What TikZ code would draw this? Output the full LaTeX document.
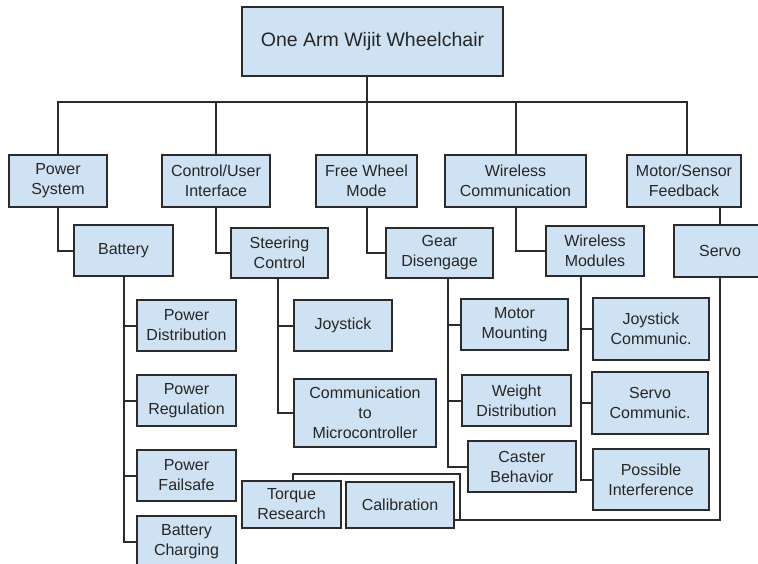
\documentclass[tikz,border=0pt]{standalone}
\usepackage{fontspec}
\setmainfont{Liberation Sans}
\usepackage{tikz}
\usetikzlibrary{positioning}
\usepackage{xcolor}
\definecolor{boxblue}{HTML}{CFE2F3}
\definecolor{boxline}{HTML}{2B2B2B}

\begin{document}
\begin{tikzpicture}[x=1pt, y=-1pt,
    block/.style={rectangle, draw=boxline, line width=2pt, fill=boxblue, align=center,
                  inner sep=0pt, text=black!85, font=\fontsize{16}{20}\selectfont},
    link/.style={draw=boxline, line width=2pt}]

          % Page
          \useasboundingbox (0,0) rectangle (758,563);

          % Top
          \node[block, minimum width=261pt, minimum height=69pt, font=\fontsize{19.5}{23}\selectfont] (top) at (372.5,41.5) {\raisebox{3pt}{One Arm Wijit Wheelchair}};

          % First level
          \node[block, minimum width=98pt,  minimum height=52pt] (pow) at (58,181)    {Power\\System};
          \node[block, minimum width=108pt, minimum height=52pt] (ctl) at (216,181)   {Control/User\\Interface};
          \node[block, minimum width=101pt, minimum height=52pt] (fwm) at (366.5,181) {Free Wheel\\Mode};
          \node[block, minimum width=141pt, minimum height=52pt] (wlc) at (515.5,181) {Wireless\\Communication};
          \node[block, minimum width=114pt, minimum height=52pt] (msf) at (684,181)   {Motor/Sensor\\Feedback};

          % Second level
          \node[block, minimum width=99pt,  minimum height=51pt] (bat)   at (123.5,250.5) {Battery};
          \node[block, minimum width=97pt,  minimum height=50pt] (ste)   at (279.5,253)   {Steering\\Control};
          \node[block, minimum width=107pt, minimum height=50pt] (gear)  at (439.5,253)   {Gear\\Disengage};
          \node[block, minimum width=98pt,  minimum height=50pt] (wmod)  at (595,251)     {Wireless\\Modules};
          \node[block, minimum width=92pt,  minimum height=52pt] (servo) at (720,251)     {Servo};

          % Third level
          \node[block, minimum width=99pt,  minimum height=51pt] (pdist)  at (186.5,325.5) {Power\\Distribution};
          \node[block, minimum width=99pt,  minimum height=51pt] (preg)   at (186.5,400.5) {Power\\Regulation};
          \node[block, minimum width=99pt,  minimum height=51pt] (pfs)    at (186.5,475.5) {Power\\Failsafe};
          \node[block, minimum width=99pt,  minimum height=52pt] (bchg)   at (186.5,542)   {Battery\\Charging};
          \node[block, minimum width=98pt,  minimum height=51pt] (joy)    at (343,325.5)   {Joystick};
          \node[block, minimum width=142pt, minimum height=68pt] (comm)   at (365,413)     {Communication\\to\\Microcontroller};
          \node[block, minimum width=107pt, minimum height=51pt] (mmount) at (514.5,324.5) {Motor\\Mounting};
          \node[block, minimum width=109pt, minimum height=51pt] (wdist)  at (516.5,400.5) {Weight\\Distribution};
          \node[block, minimum width=108pt, minimum height=51pt] (caster) at (522,466.5)   {Caster\\Behavior};
          \node[block, minimum width=116pt, minimum height=62pt] (jcom)   at (651,329)     {Joystick\\Communic.};
          \node[block, minimum width=116pt, minimum height=62pt] (scom)   at (650,403)     {Servo\\Communic.};
          \node[block, minimum width=116pt, minimum height=61pt] (pint)   at (651,479.5)   {Possible\\Interference};
          \node[block, minimum width=99pt,  minimum height=47pt] (torq)   at (291.5,504.5) {Torque\\Research};
          \node[block, minimum width=108pt, minimum height=46pt] (cal)    at (400,505)     {Calibration};

          % Bus under the top box
          \coordinate (bus) at (368,102);
          \draw[link] (fwm.north) -- (fwm.north |- top.south);
          \draw[link] (pow.north) |- (bus) -| ([xshift=3pt]msf.north);
          \draw[link] (ctl.north) -- (ctl.north |- bus);
          \draw[link] (wlc.north) -- (wlc.north |- bus);

          % First to second level
          \draw[link] (pow.south) |- (bat.west);
          \draw[link] (ctl.south) |- (ste.west);
          \draw[link] (fwm.south) |- (gear.west);
          \draw[link] (wlc.south) |- (wmod.west);
          \draw[link] (servo.north) -- (servo.north |- msf.south);

          % Battery branch
          \draw[link] (bat.south) |- (pdist.west);
          \draw[link] (bat.south) |- (preg.west);
          \draw[link] (bat.south) |- (pfs.west);
          \draw[link] (bat.south) |- (bchg.west);

          % Steering branch
          \draw[link] ([xshift=-1.5pt]ste.south) |- (joy.west);
          \draw[link] ([xshift=-1.5pt]ste.south) |- (comm.west);

          % Gear branch
          \draw[link] ([xshift=8.5pt]gear.south) |- (mmount.west);
          \draw[link] ([xshift=8.5pt]gear.south) |- (wdist.west);
          \draw[link] ([xshift=8.5pt]gear.south) |- (caster.west);

          % Wireless modules branch
          \draw[link] ([xshift=-14pt]wmod.south) |- (jcom.west);
          \draw[link] ([xshift=-14pt]wmod.south) |- (scom.west);
          \draw[link] ([xshift=-14pt]wmod.south) |- (pint.west);

          % Servo branch
          \coordinate (sv) at (460,520);
          \draw[link] (servo.south) |- (sv) -- (sv -| cal.east);
          \draw[link] (sv) -- ++(0,-46) -| ([xshift=1pt]torq.north);

        \end{tikzpicture}
\end{document}
